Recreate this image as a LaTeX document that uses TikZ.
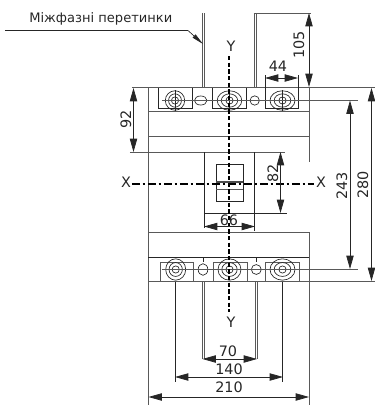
\documentclass[tikz,border=0pt]{standalone}
\usepackage{fontspec}
\setmainfont{DejaVu Sans}
\usetikzlibrary{arrows.meta}
\tikzset{
  thinline/.style={line width=0.6pt, black!65},
  darkline/.style={line width=0.5pt, black!85},
  dimline/.style={line width=0.55pt, black!85, {Triangle[length=10pt,width=5.5pt]}-{Triangle[length=10pt,width=5.5pt]}},
  axisline/.style={line width=1.5pt, black, dash pattern=on 3.2pt off 1.8pt},
  dimtext/.style={font=\fontsize{10.8pt}{12pt}\selectfont, text=black!85, inner sep=0pt},
}
\begin{document}
\begin{tikzpicture}[x=0.75pt,y=-0.75pt]
\useasboundingbox (0,0) rectangle (375,405);

% корпус
\draw[thinline] (148.5,87) -- (148.5,405);
\draw[thinline] (309,87) -- (309,162);
\draw[thinline] (309,232) -- (309,405);
\draw[thinline] (132,87.5) -- (375,87.5);
\draw[thinline] (148.5,111.5) -- (309,111.5);
\draw[thinline] (148.5,136) -- (309,136);
\draw[thinline] (130,152) -- (285,152);
\draw[thinline] (148.5,232.5) -- (309,232.5);
\draw[darkline] (148.5,257.5) -- (309,257.5);
\draw[thinline] (148.5,281.5) -- (375,281.5);

% рукоятка
\draw[darkline] (204,152) -- (204,228);
\draw[darkline] (254,152) -- (254,231);
\draw[darkline] (204,213) -- (287,213);
\draw[darkline] (216,164) rectangle (243,201);
\draw[line width=0.9pt, black!70] (216,182) -- (243,182);
\draw[thinline] (216,189) -- (243,189);

% верхні затискачі
\foreach \bx/\ex in {158.5/192.5, 212/246.5, 265/298} {
  \draw[darkline] (\bx,88) -- (\bx,108) -- (\ex,108) -- (\ex,88);
}
\foreach \cx/\rx in {175/9.7, 229.5/12.3, 282.5/12.5} {
  \draw[darkline] (\cx,100.5) ellipse [x radius=\rx*0.75pt, y radius=7.3pt];
  \draw[darkline] (\cx,100.5) ellipse [x radius=\rx*0.5pt, y radius=5pt];
  \draw[darkline] (\cx,100.5) circle (2.7pt);
  \draw[darkline] (\cx,90) -- (\cx,111);
}
\draw[darkline] (200.7,100.5) ellipse [x radius=4.7pt, y radius=3.4pt];
\draw[darkline] (254.7,100.5) circle (3.5pt);
\draw[thinline] (162,100.5) -- (358,100.5);

% нижні затискачі
\foreach \bx/\ex in {160/193, 213.5/247, 265/299.5} {
  \draw[thinline] (\bx,281) -- (\bx,262.5) -- (\ex,262.5) -- (\ex,281);
}
\foreach \cx/\rx in {175.7/10, 229.5/11.5, 282.5/12.5} {
  \draw[darkline] (\cx,269.5) ellipse [x radius=\rx*0.75pt, y radius=8pt];
  \draw[darkline] (\cx,269.5) ellipse [x radius=\rx*0.5pt, y radius=5.2pt];
  \draw[darkline] (\cx,269.5) circle (2.7pt);
}
\draw[darkline] (203,269.5) ellipse [x radius=3.6pt, y radius=4.4pt];
\draw[darkline] (256.3,269.5) circle (3.7pt);
\draw[darkline] (203,258) -- (203,262);
\draw[darkline] (256.3,258) -- (256.3,262);
\draw[thinline] (162,269.5) -- (358,269.5);

% перетинки
\draw[thinline] (202.5,13) -- (202.5,87);
\draw[thinline] (204.5,13) -- (204.5,87);
\draw[thinline] (254,13) -- (254,87);
\draw[thinline] (256,13) -- (256,87);
\draw[thinline] (254,13) -- (311,13);
\draw[darkline] (5,30.5) -- (188,30.5);
\draw[darkline, -{Triangle[length=9pt,width=3.2pt]}] (188,30.5) -- (203,44);
\node[dimtext, anchor=west, font=\fontsize{9.8pt}{11pt}\selectfont] (label) at (29,19) {Міжфазні перетинки};

% вісі
\draw[axisline] (229.5,56) -- (229.5,312);
\draw[axisline, dash pattern=on 6pt off 2pt on 2pt off 2pt] (132,183.5) -- (314,183.5);
\node[dimtext] (yTop) at (231,46) {Y};
\node[dimtext] (yBot) at (231,322) {Y};
\node[dimtext] (xLeft) at (126,182) {X};
\node[dimtext] (xRight) at (321,182) {X};

% розміри
\draw[dimline] (309,13) -- (309,87);
\node[dimtext, rotate=90] (dimA) at (299,45) {105};
\draw[darkline] (265,75) -- (265,88);
\draw[darkline] (298,75) -- (298,88);
\draw[dimline] (265,78) -- (298,78);
\node[dimtext] (dimB) at (278,66) {44};
\draw[dimline] (133.5,88) -- (133.5,152);
\node[dimtext, rotate=90] (dimC) at (126,119) {92};
\draw[dimline] (350,100.5) -- (350,269);
\node[dimtext, rotate=90] (dimD) at (342,186) {243};
\draw[dimline] (371.5,88) -- (371.5,281);
\node[dimtext, rotate=90] (dimE) at (363,185) {280};
\draw[dimline] (280.5,152) -- (280.5,213);
\node[dimtext, rotate=90] (dimF) at (273,173) {82};
\draw[dimline] (204,226.5) -- (255,226.5);
\node[dimtext] (dimG) at (229,220) {66};
\draw[darkline] (175.7,282) -- (175.7,382);
\draw[darkline] (282.5,282) -- (282.5,382);
\draw[thinline] (202.5,282) -- (202.5,359);
\draw[thinline] (204.5,282) -- (204.5,359);
\draw[thinline] (255,282) -- (255,359);
\draw[thinline] (257,282) -- (257,359);
\draw[dimline] (202.5,359) -- (257,359);
\node[dimtext] (dimH) at (228,351) {70};
\draw[dimline] (175,377) -- (283,377);
\node[dimtext] (dimI) at (229,369) {140};
\draw[dimline] (148.5,397) -- (309,397);
\node[dimtext] (dimJ) at (229,387) {210};

\end{tikzpicture}
\end{document}
